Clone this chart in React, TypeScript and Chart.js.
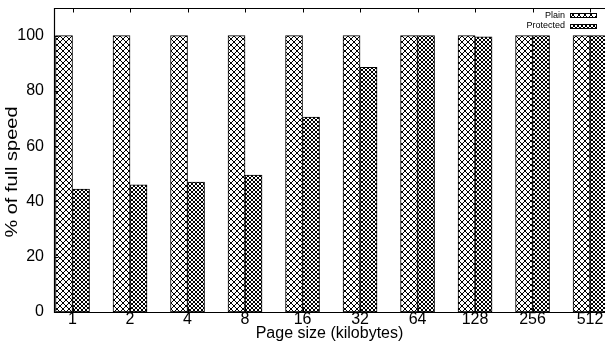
import React, { useEffect, useRef } from 'react';
import { Chart, registerables } from 'chart.js';

Chart.register(...registerables);

const categories = ['1', '2', '4', '8', '16', '32', '64', '128', '256', '512'];
const plainValues = [100, 100, 100, 100, 100, 100, 100, 100, 100, 100];
const protectedValues = [44.5, 46, 47, 49.5, 70.5, 88.5, 100, 99.6, 100, 100];
const seriesNames = ['Plain', 'Protected'];
const yTicks = [0, 20, 40, 60, 80, 100];
const xTitle = 'Page size (kilobytes)';
const yTitle = '% of full speed';

const FONT = '"Liberation Sans", Arial, Helvetica, sans-serif';

function makePattern(size: number, on: (x: number, y: number) => boolean): CanvasPattern | string {
  const c = document.createElement('canvas');
  c.width = size;
  c.height = size;
  const g = c.getContext('2d');
  if (!g) return '#888';
  g.fillStyle = '#fff';
  g.fillRect(0, 0, size, size);
  g.fillStyle = '#000';
  for (let y = 0; y < size; y++) {
    for (let x = 0; x < size; x++) {
      if (on(x, y)) g.fillRect(x, y, 1, 1);
    }
  }
  const p = g.createPattern(c, 'repeat');
  return p || '#888';
}

const framePlugin = {
  id: 'gpFrame',
  afterDatasetsDraw(chart: any) {
    const { ctx, chartArea } = chart;
    const { left, top, right, bottom } = chartArea;
    const xs = chart.scales.x;
    const ys = chart.scales.y;
    ctx.save();
    ctx.strokeStyle = '#000';
    ctx.lineWidth = 1.2;
    ctx.beginPath();
    ctx.moveTo(right + 2, top + 0.5);
    ctx.lineTo(left + 0.5, top + 0.5);
    ctx.lineTo(left + 0.5, bottom + 0.5);
    ctx.lineTo(right + 2, bottom + 0.5);
    ctx.stroke();
    ctx.lineWidth = 1;
    ctx.beginPath();
    categories.forEach((_, i) => {
      const px = Math.round(xs.getPixelForValue(i)) + 0.5;
      ctx.moveTo(px, top);
      ctx.lineTo(px, top + 4.5);
      ctx.moveTo(px, bottom);
      ctx.lineTo(px, bottom - 4.5);
    });
    yTicks.forEach((v) => {
      const py = Math.round(ys.getPixelForValue(v)) + 0.5;
      ctx.moveTo(left, py);
      ctx.lineTo(left + 4.5, py);
    });
    ctx.stroke();
    ctx.restore();
  },
};

const yTitlePlugin = {
  id: 'gpYTitle',
  afterDraw(chart: any) {
    const { ctx } = chart;
    ctx.save();
    ctx.translate(13, 172);
    ctx.rotate(-Math.PI / 2);
    ctx.scale(1.25, 1);
    ctx.font = '16px ' + FONT;
    ctx.fillStyle = '#000';
    ctx.textAlign = 'center';
    ctx.textBaseline = 'middle';
    ctx.fillText(yTitle, 0, 0);
    ctx.restore();
  },
};

const keyPlugin = {
  id: 'gpKey',
  afterDraw(chart: any) {
    const { ctx } = chart;
    ctx.save();
    ctx.font = '9px ' + FONT;
    ctx.textAlign = 'right';
    ctx.textBaseline = 'middle';
    chart.data.datasets.forEach((ds: any, i: number) => {
      const y = 15.5 + i * 10.5;
      ctx.fillStyle = '#000';
      ctx.fillText(ds.label, 565, y);
      ctx.fillStyle = ds.backgroundColor;
      ctx.fillRect(570, Math.round(y - 2.5), 27, 5);
      ctx.strokeStyle = '#000';
      ctx.lineWidth = 1;
      ctx.strokeRect(570.5, Math.round(y - 2.5) + 0.5, 26, 4);
    });
    ctx.restore();
  },
};

export default function App() {
  const ref = useRef<HTMLCanvasElement | null>(null);

  useEffect(() => {
    const canvas = ref.current;
    if (!canvas) return;
    const plainPat = makePattern(6, (x, y) => x === y || x + y === 5);
    const protPat = makePattern(4, (x, y) => x === y || x + y === 3);

    const chart = new Chart(canvas, {
      type: 'bar',
      data: {
        datasets: [
          {
            label: seriesNames[0],
            data: plainValues.map((v, i) => ({ x: i, y: v })),
            backgroundColor: plainPat as any,
            borderColor: '#000',
            borderWidth: 1,
            borderSkipped: false,
            barThickness: 17,
          },
          {
            label: seriesNames[1],
            data: protectedValues.map((v, i) => ({ x: i, y: v })),
            backgroundColor: protPat as any,
            borderColor: '#000',
            borderWidth: 1,
            borderSkipped: false,
            barThickness: 17,
          },
        ],
      },
      options: {
        animation: false,
        responsive: false,
        devicePixelRatio: 1,
        layout: { padding: { top: 8, left: 0, right: 0, bottom: 0 } },
        plugins: {
          legend: { display: false },
          tooltip: { enabled: false },
        },
        scales: {
          x: {
            type: 'linear',
            min: -0.322,
            max: 9.26,
            offset: false,
            grid: { display: false, drawTicks: false },
            border: { display: false },
            afterBuildTicks: (s: any) => {
              s.ticks = categories.map((_, i) => ({ value: i }));
            },
            ticks: {
              autoSkip: false,
              maxRotation: 0,
              minRotation: 0,
              padding: 0,
              color: '#000',
              font: { family: FONT, size: 16, lineHeight: 1 },
              callback: (_v: any, i: number) => categories[i],
            },
            title: {
              display: true,
              text: xTitle,
              color: '#000',
              font: { family: FONT, size: 16, lineHeight: 1.2 },
              padding: { top: 0, bottom: 1.5 },
            },
            afterFit: (s: any) => {
              s.height = 33;
              s.paddingLeft = 0;
              s.paddingRight = 0;
              s.paddingTop = 0;
              s.paddingBottom = 0;
            },
          } as any,
          y: {
            type: 'linear',
            min: 0,
            max: 110,
            grid: { display: false, drawTicks: false },
            border: { display: false },
            afterBuildTicks: (s: any) => {
              s.ticks = yTicks.map((v) => ({ value: v }));
            },
            ticks: {
              padding: 10,
              color: '#000',
              font: { family: FONT, size: 16, lineHeight: 1 },
            },
            title: { display: false },
            afterFit: (s: any) => {
              s.width = 54;
              s.paddingLeft = 0;
              s.paddingRight = 0;
              s.paddingTop = 0;
              s.paddingBottom = 0;
            },
          } as any,
        },
      },
      plugins: [framePlugin, yTitlePlugin, keyPlugin],
    });

    return () => {
      chart.destroy();
    };
  }, []);

  return (
    <div
      style={{
        position: 'fixed',
        left: 0,
        top: 0,
        width: 605,
        height: 345,
        overflow: 'hidden',
        background: '#fff',
      }}
    >
      <canvas ref={ref} width={605} height={345} style={{ display: 'block' }} />
    </div>
  );
}
